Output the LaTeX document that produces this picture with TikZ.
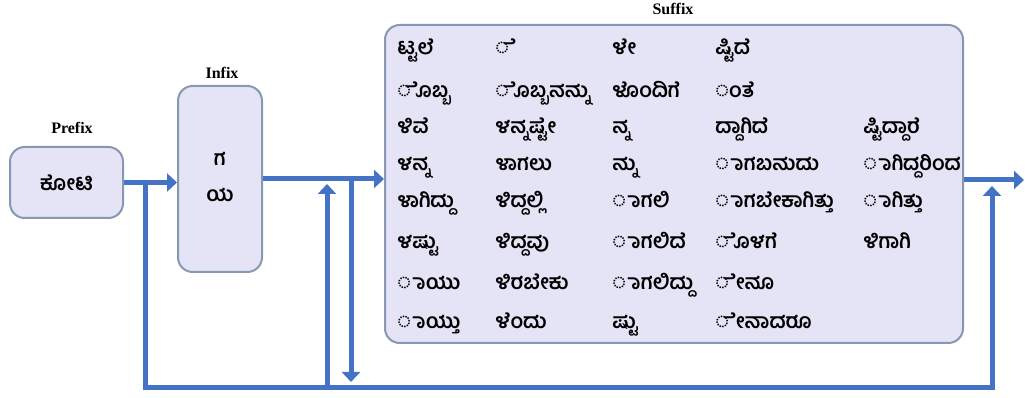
\documentclass[tikz,border=0pt]{standalone}
\usepackage{fontspec}
\setmainfont{Liberation Serif}
\newfontfamily\kanfont[Script=Kannada]{Hind Mysuru}
\usetikzlibrary{arrows.meta,positioning}
\definecolor{flowblue}{RGB}{68,114,196}
\definecolor{partfill}{RGB}{229,227,246}
\definecolor{partline}{RGB}{135,152,178}
\tikzset{
  part/.style={draw=partline, fill=partfill, line width=1.5pt, rounded corners=11pt, inner sep=0pt},
  tag/.style={font=\bfseries\fontsize{12pt}{14pt}\selectfont, inner sep=1pt},
  word/.style={font=\kanfont\bfseries\fontsize{15.5pt}{17pt}\selectfont, anchor=base west, inner sep=0pt},
  flow/.style={flowblue, line width=3.75pt, -{Triangle[length=7.5pt,width=13.5pt]}},
  flowline/.style={flowblue, line width=3.75pt}
}
\begin{document}
\begin{tikzpicture}[x=0.75pt,y=-0.75pt]
\useasboundingbox (0,0) rectangle (1025,398);
% the three parts of the word
\node[part, minimum width=84.75pt, minimum height=53.25pt, font=\kanfont\bfseries\fontsize{15.5pt}{17pt}\selectfont] (prefix) at (66.5,182.5) {ಕೋಟಿ};
\node[part, minimum width=63pt, minimum height=139.5pt, align=center, font=\kanfont\bfseries\fontsize{15.5pt}{27pt}\selectfont] (infix) at (220,179) {\\[-20pt]ಗ\\ಯ};
\node[part, minimum width=433.5pt, minimum height=238.5pt] (suffix) at (674,184) {};
\node[tag] (prefixtag) at (72,128) {Prefix};
\node[tag] (infixtag) at (222,73) {Infix};
\node[tag] (suffixtag) at (673,9) {Suffix};
% suffix list, column by column
\foreach \w/\yy [count=\r] in {ಟ್ಟಲೆ/55, ◌ೊಬ್ಬ/98, ಳಿವೆ/134, ಳನ್ನ/171, ಳಾಗಿದ್ದು/208, ಳಷ್ಟು/249, ◌ಾಯು/290, ◌ಾಯ್ತು/329}
  {\node[word] (sufa\r) at (397,\yy) {\w};}
\foreach \w/\yy [count=\r] in {◌ೆ/55, ◌ೊಬ್ಬನನ್ನು/98, ಳನ್ನಷ್ಟೇ/134, ಳಾಗಲು/171, ಳಿದ್ದಲ್ಲಿ/208, ಳಿದ್ದವು/249, ಳಿರಬೇಕು/290, ಳೆಂದು/329}
  {\node[word] (sufb\r) at (495,\yy) {\w};}
\foreach \w/\yy [count=\r] in {ಳೇ/55, ಳೊಂದಿಗೆ/98, ನ್ನ/134, ನ್ನು/171, ◌ಾಗಲಿ/208, ◌ಾಗಲಿದೆ/249, ◌ಾಗಲಿದ್ದು/290, ಷ್ಟು/329}
  {\node[word] (sufc\r) at (612,\yy) {\w};}
\foreach \w/\yy [count=\r] in {ಷ್ಟಿದೆ/55, ◌ಂತೆ/98, ದ್ದಾಗಿದೆ/134, ◌ಾಗಬಹುದು/171, ◌ಾಗಬೇಕಾಗಿತ್ತು/208, ◌ೊಳಗೆ/249, ◌ೇನೂ/290, ◌ೇನಾದರೂ/329}
  {\node[word] (sufd\r) at (715,\yy) {\w};}
\foreach \w/\yy [count=\r] in {ಷ್ಟಿದ್ದಾರೆ/134, ◌ಾಗಿದ್ದರಿಂದ/171, ◌ಾಗಿತ್ತು/208, ಳಿಗಾಗಿ/249}
  {\node[word] (sufe\r) at (863,\yy) {\w};}
% flow and feedback
\coordinate (fork) at (145,182.5);
\coordinate (rise) at (992,388);
\coordinate (rejoin) at (992,186);
\coordinate (skipup) at (327,184);
\coordinate (skipdown) at (351,382);
\coordinate (out) at (1024,180);
\draw[flow] (prefix.east) -- (prefix.east -| infix.west);
\draw[flow] (infix.east) -- (infix.east -| suffix.west);
\draw[flow] (suffix.east |- out) -- (out);
\draw[flow] (fork) |- (rise) -- (rejoin);
\draw[flow] (skipup |- rise) -- (skipup);
\draw[flow] (skipdown |- infix.east) -- (skipdown);
\end{tikzpicture}
\end{document}
